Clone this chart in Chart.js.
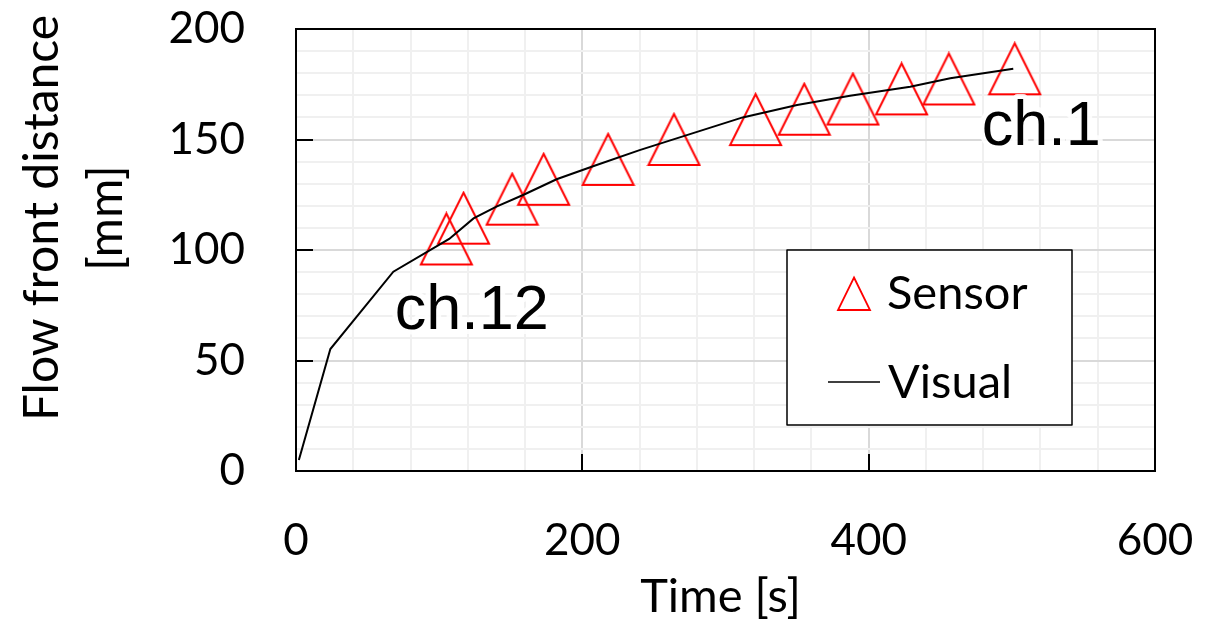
<!DOCTYPE html>
<html>
<head>
<meta charset="utf-8">
<script src="https://cdn.jsdelivr.net/npm/chart.js@4.4.1/dist/chart.umd.min.js"></script>
<style>
  html, body { margin: 0; padding: 0; background: #fff; }
  #wrap { width: 1217px; height: 620px; position: relative; }
</style>
</head>
<body>
<div id="wrap"><canvas id="c" width="1217" height="620"></canvas></div>
<script>
// ---- data ----
const visualTime = [2, 24, 68, 107, 124, 140, 159, 182, 208, 240, 312, 350, 387, 429, 457, 501];
const visualDist = [5, 55.2, 90.2, 105, 114.3, 119.6, 125, 132, 138, 145.2, 160, 165.6, 169.8, 173.9, 177.7, 182];
const sensorTime = [105, 117, 151, 173, 218, 264, 321, 355, 389, 423, 456, 502];
const sensorDist = [105, 114.4, 123, 132, 141, 150, 159, 163.7, 168.3, 172.9, 177.4, 182];
const xTickLabels = [0, 200, 400, 600];
const yTickLabels = [0, 50, 100, 150, 200];
const seriesNames = ['Sensor', 'Visual'];
const xTitle = 'Time [s]';
const yTitle = ['Flow front distance', '[mm]'];
const annotationTexts = ['ch.12', 'ch.1'];
const annotationAnchorT = [69, 479];
const annotationAnchorV = [64.3, 147.5];

const TICK_FONT = 'Lato';
const TITLE_FONT = 'Lato';

function makeTriangle(w, h, lw, color) {
  const pad = Math.ceil(lw);
  const cv = document.createElement('canvas');
  cv.width = w + 2 * pad; cv.height = h + 2 * pad;
  const g = cv.getContext('2d');
  g.strokeStyle = color; g.lineWidth = lw; g.lineJoin = 'miter';
  g.beginPath();
  g.moveTo(pad + w / 2, pad);
  g.lineTo(pad + w, pad + h);
  g.lineTo(pad, pad + h);
  g.closePath();
  g.stroke();
  return cv;
}

const overlay = {
  id: 'overlay',
  afterDraw(chart) {
    const { ctx, chartArea: a, scales } = chart;
    const xs = scales.x, ys = scales.y;
    ctx.save();
    // inward major ticks
    ctx.strokeStyle = '#000'; ctx.lineWidth = 2;
    ctx.beginPath();
    yTickLabels.forEach(v => { const py = Math.round(ys.getPixelForValue(v)); ctx.moveTo(a.left, py); ctx.lineTo(a.left + 17, py); });
    xTickLabels.forEach(v => { const px = Math.round(xs.getPixelForValue(v)); ctx.moveTo(px, a.bottom); ctx.lineTo(px, a.bottom - 17); });
    ctx.stroke();
    // plot border
    ctx.lineWidth = 2;
    ctx.strokeRect(a.left, a.top, a.right - a.left, a.bottom - a.top);

    // annotations
    ctx.font = '63px "Liberation Sans", Arial, sans-serif';
    ctx.textAlign = 'left'; ctx.textBaseline = 'alphabetic';
    annotationTexts.forEach((t, i) => {
      const px = xs.getPixelForValue(annotationAnchorT[i]);
      const py = ys.getPixelForValue(annotationAnchorV[i]);
      ctx.lineJoin = 'round';
      ctx.strokeStyle = 'rgba(255,255,255,0.85)'; ctx.lineWidth = 10;
      ctx.strokeText(t, px, py);
      ctx.fillStyle = '#000';
      ctx.fillText(t, px, py);
    });

    // legend box
    const lx = a.left + 491, ly = a.top + 221, lw = 285, lh = 175;
    ctx.fillStyle = '#fff';
    ctx.fillRect(lx, ly, lw, lh);
    ctx.strokeStyle = '#000'; ctx.lineWidth = 1.5;
    ctx.strokeRect(lx, ly, lw, lh);
    // sensor symbol
    ctx.strokeStyle = '#ff0000'; ctx.lineWidth = 1.8; ctx.lineJoin = 'miter';
    ctx.beginPath();
    ctx.moveTo(lx + 67, ly + 27.5);
    ctx.lineTo(lx + 83, ly + 60);
    ctx.lineTo(lx + 51, ly + 60);
    ctx.closePath(); ctx.stroke();
    // visual symbol
    ctx.strokeStyle = '#000'; ctx.lineWidth = 1.5;
    ctx.beginPath(); ctx.moveTo(lx + 41, ly + 132); ctx.lineTo(lx + 93, ly + 132); ctx.stroke();
    ctx.fillStyle = '#000';
    ctx.font = '47px ' + TITLE_FONT;
    ctx.textAlign = 'left'; ctx.textBaseline = 'alphabetic';
    ctx.fillText(seriesNames[0], lx + 100, ly + 59);
    ctx.fillText(seriesNames[1], lx + 101, ly + 148);

    // x title
    ctx.font = '47px ' + TITLE_FONT;
    ctx.textAlign = 'center';
    ctx.fillText(xTitle, (a.left + a.right) / 2 - 5, a.bottom + 141);
    // y title
    ctx.save();
    ctx.translate(0, 218);
    ctx.rotate(-Math.PI / 2);
    ctx.font = '48px ' + TITLE_FONT;
    ctx.textAlign = 'center';
    ctx.fillText(yTitle[0], 0, 58);
    ctx.fillText(yTitle[1], 0, 122);
    ctx.restore();
    ctx.restore();
  }
};

function build() {
  const tri = makeTriangle(51, 51, 2, '#ff0000');
  new Chart(document.getElementById('c'), {
    type: 'scatter',
    data: {
      datasets: [
        {
          label: seriesNames[1],
          data: visualTime.map((t, i) => ({ x: t, y: visualDist[i] })),
          showLine: true,
          borderColor: '#000',
          borderWidth: 2,
          pointRadius: 0,
          tension: 0,
          clip: false,
          order: 0
        },
        {
          label: seriesNames[0],
          data: sensorTime.map((t, i) => ({ x: t, y: sensorDist[i] })),
          showLine: false,
          pointStyle: tri,
          pointRadius: 1,
          pointBorderWidth: 0,
          clip: false,
          order: 1
        }
      ]
    },
    options: {
      responsive: false,
      animation: false,
      events: [],
      layout: { padding: { left: 0, top: 29, right: 62, bottom: 0 } },
      plugins: { legend: { display: false }, tooltip: { enabled: false } },
      scales: {
        x: {
          type: 'linear', min: 0, max: 600,
          border: { display: false },
          grid: {
            drawTicks: true, tickLength: 43, tickColor: 'rgba(0,0,0,0)', lineWidth: 2,
            color: c => (xTickLabels.includes(c.tick.value) ? '#d9d9d9' : '#f0f0f0')
          },
          ticks: {
            stepSize: 40, autoSkip: false, maxRotation: 0, padding: 0,
            color: '#000', font: { family: TICK_FONT, size: 44 },
            callback: v => (xTickLabels.includes(v) ? String(v) : '')
          },
          afterFit: s => { s.height = 149; }
        },
        y: {
          type: 'linear', min: 0, max: 200,
          border: { display: false },
          grid: {
            drawTicks: true, tickLength: 51, tickColor: 'rgba(0,0,0,0)', lineWidth: 2,
            color: c => (yTickLabels.includes(c.tick.value) ? '#d9d9d9' : '#f0f0f0')
          },
          ticks: {
            stepSize: 10, autoSkip: false, padding: 0,
            color: '#000', font: { family: TICK_FONT, size: 44 },
            callback: v => (yTickLabels.includes(v) ? String(v) : '')
          },
          afterFit: s => { s.width = 296; }
        }
      }
    },
    plugins: [overlay]
  });
}

Promise.all([
  document.fonts.load('44px Lato'),
  document.fonts.load('63px "Liberation Sans"')
]).then(build, build);
</script>
</body>
</html>
